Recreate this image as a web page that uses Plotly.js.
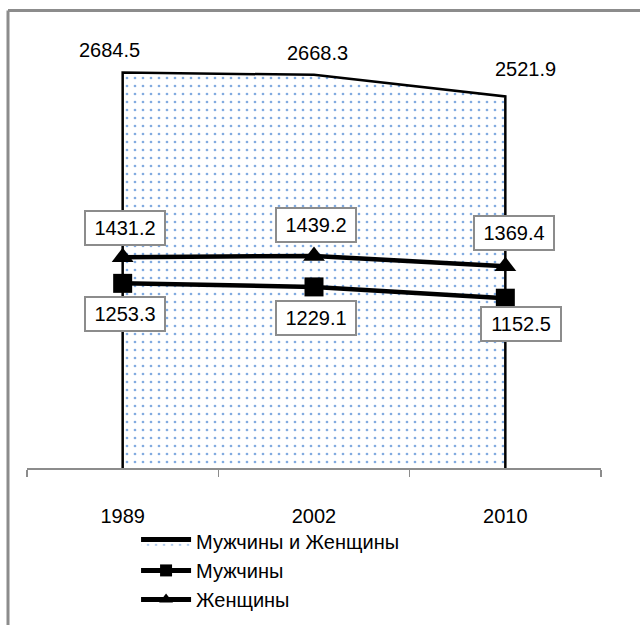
<!DOCTYPE html>
<html>
<head>
<meta charset="utf-8">
<script src="https://cdn.plot.ly/plotly-3.0.1.min.js"></script>
<style>
html,body{margin:0;padding:0;background:#fff;}
#chart{width:640px;height:625px;}
</style>
</head>
<body>
<div id="chart"></div>
<script>
// ---- data ----
const years = ['1989', '2002', '2010'];
const total = [2684.5, 2668.3, 2521.9];
const men = [1253.3, 1229.1, 1152.5];
const women = [1431.2, 1439.2, 1369.4];
const seriesNames = ['Мужчины и Женщины', 'Мужчины', 'Женщины'];

// ---- drawing ----
const FONT = 'Liberation Sans, Arial, sans-serif';
const gray = '#8c8c8c';

const areaX = [years[0]].concat(years, [years[years.length - 1]]);
const areaY = [0].concat(total, [0]);

const traces = [
  {
    x: areaX, y: areaY, name: seriesNames[0], type: 'scatter', mode: 'lines',
    fill: 'tozeroy',
    fillcolor: 'white',
    fillpattern: {shape: '.', fgcolor: '#82abe0', bgcolor: 'white', size: 8, solidity: 0.09},
    line: {color: 'black', width: 2.5, shape: 'linear'},
    hoverinfo: 'skip'
  },
  {
    x: years, y: men, name: seriesNames[1], type: 'scatter', mode: 'lines+markers',
    line: {color: 'black', width: 4.5},
    marker: {symbol: 'square', size: 19, color: 'black'}
  },
  {
    x: years, y: women, name: seriesNames[2], type: 'scatter', mode: 'lines+markers',
    line: {color: 'black', width: 4.5},
    marker: {symbol: 'triangle-up', size: 19, color: 'black'}
  }
];

const annotations = [];
const totalShift = [[-13, 22], [3, 22], [20, 27]];
const womenShift = [[2, 29], [2, 31], [9, 33]];
const menShift = [[2, -31], [2, -31], [16, -26]];
years.forEach((yr, i) => {
  annotations.push({
    x: i, y: total[i], xref: 'x', yref: 'y', text: total[i].toFixed(1), showarrow: false,
    xshift: totalShift[i][0], yshift: totalShift[i][1],
    font: {family: FONT, size: 20, color: 'black'}
  });
  annotations.push({
    x: i, y: women[i], xref: 'x', yref: 'y', text: women[i].toFixed(1), showarrow: false,
    xshift: womenShift[i][0], yshift: womenShift[i][1],
    font: {family: FONT, size: 20, color: 'black'},
    bgcolor: 'white', bordercolor: gray, borderwidth: 2, borderpad: 3, width: 72, height: 26
  });
  annotations.push({
    x: i, y: men[i], xref: 'x', yref: 'y', text: men[i].toFixed(1), showarrow: false,
    xshift: menShift[i][0], yshift: menShift[i][1],
    font: {family: FONT, size: 20, color: 'black'},
    bgcolor: 'white', bordercolor: gray, borderwidth: 2, borderpad: 3, width: 72, height: 26
  });
});

const layout = {
  width: 640, height: 625,
  margin: {l: 27, r: 39, t: 26, b: 157, pad: 0, autoexpand: false},
  paper_bgcolor: 'white', plot_bgcolor: 'white',
  font: {family: FONT, size: 20, color: 'black'},
  showlegend: true,
  legend: {
    x: 0.19, y: -0.122, xanchor: 'left', yanchor: 'top',
    font: {family: FONT, size: 20, color: 'black'},
    traceorder: 'normal', tracegroupgap: 0, itemwidth: 50, itemsizing: 'constant',
    bgcolor: 'rgba(0,0,0,0)'
  },
  xaxis: {
    type: 'category', categoryorder: 'array', categoryarray: years,
    range: [-0.5, 2.5], tickson: 'boundaries', automargin: false,
    showline: true, linecolor: gray, linewidth: 1.5,
    ticks: 'outside', ticklen: 7, tickwidth: 1.5, tickcolor: gray,
    showgrid: false, zeroline: false, fixedrange: true,
    tickfont: {family: FONT, size: 20, color: 'black'},
    ticklabelstandoff: 29
  },
  yaxis: {
    range: [0, 3000], visible: false, showgrid: false, zeroline: false, fixedrange: true, automargin: false
  },
  annotations: annotations,
  shapes: [
    {type: 'line', xref: 'paper', yref: 'paper', x0: -0.0331, x1: 1.2, y0: 1.035, y1: 1.035,
     line: {color: gray, width: 3}},
    {type: 'line', xref: 'paper', yref: 'paper', x0: -0.0331, x1: -0.0331, y0: 1.035, y1: -0.5,
     line: {color: gray, width: 3}}
  ]
};

Plotly.newPlot('chart', traces, layout, {displayModeBar: false, staticPlot: true});
</script>
</body>
</html>
